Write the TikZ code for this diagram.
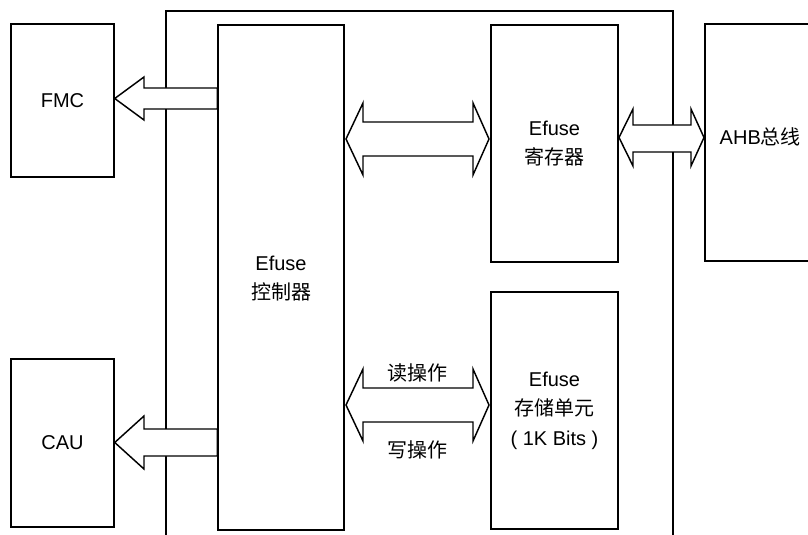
\documentclass[tikz,border=0pt]{standalone}
\usepackage{fontspec}
\setmainfont{Liberation Sans}
\newfontfamily\cjk{Noto Sans CJK SC}

\tikzset{every picture/.style={line width=1.1pt}}
\tikzset{
  blk/.style={draw, fill=white, rectangle, inner sep=0pt, align=center, font=\fontsize{15}{22}\selectfont},
  lbl/.style={inner sep=0.75pt, font=\fontsize{15}{22}\selectfont},
  fat/.style={draw, fill=white, line join=miter},
}

\begin{document}
\begin{tikzpicture}[x=0.75pt,y=0.75pt,yscale=-1,xscale=1]
\useasboundingbox (0,0) rectangle (808,535);

%Outer frame
\draw    (166,545) -- (166,11) -- (673,11) -- (673,545) ;

% Blocks
\node [blk, minimum width=103*0.75pt, minimum height=153*0.75pt] (fmc) at (62.5,100.5) {FMC};
\node [blk, minimum width=103*0.75pt, minimum height=168*0.75pt] (cau) at (62.5,443) {CAU};
\node [blk, minimum width=126*0.75pt, minimum height=505*0.75pt, text depth=-1pt] (ctrl) at (281,277.5) {Efuse\\{\cjk 控制器}};
\node [blk, minimum width=127*0.75pt, minimum height=237*0.75pt] (reg) at (554.5,143.5) {Efuse\\{\cjk 寄存器}};
\node [blk, minimum width=127*0.75pt, minimum height=237*0.75pt] (mem) at (554.5,410.5) {Efuse\\{\cjk 存储单元}\\( 1K Bits )};
% AHB box (runs off the right edge)
\draw    (808,24) -- (705,24) -- (705,261) -- (808,261) ;
% Text Node
\node [lbl, anchor=west] (ahb) at (718,137) {AHB{\cjk 总线}};

%Block arrows to FMC and CAU
\draw [fat]  (fmc.east |- 0,98.5) -- (144,77) -- (144,88) -- (ctrl.west |- 0,88) -- (ctrl.west |- 0,109) -- (144,109) -- (144,120) -- cycle ;
\draw [fat]  (cau.east |- 0,442.5) -- (144,416) -- (144,429) -- (ctrl.west |- 0,429) -- (ctrl.west |- 0,456) -- (144,456) -- (144,469) -- cycle ;

%Double arrow controller - register
\draw [fat]  (346,139) -- (363,103) -- (363,122) -- (473,122) -- (473,103) -- (489,139) -- (473,175) -- (473,156) -- (363,156) -- (363,175) -- cycle ;
%Double arrow register - AHB
\draw [fat]  (619,137.5) -- (633,109) -- (633,125) -- (691,125) -- (691,109) -- (704,137.5) -- (691,166) -- (691,152) -- (633,152) -- (633,166) -- cycle ;
%Double arrow controller - storage
\draw [fat]  (346,405) -- (363,369) -- (363,388) -- (473,388) -- (473,369) -- (489,405) -- (473,441) -- (473,422) -- (363,422) -- (363,441) -- cycle ;

% Text Node
\node [lbl] (rd) at (417,373) {\cjk 读操作};
% Text Node
\node [lbl] (wr) at (417,450) {\cjk 写操作};
\end{tikzpicture}
\end{document}
